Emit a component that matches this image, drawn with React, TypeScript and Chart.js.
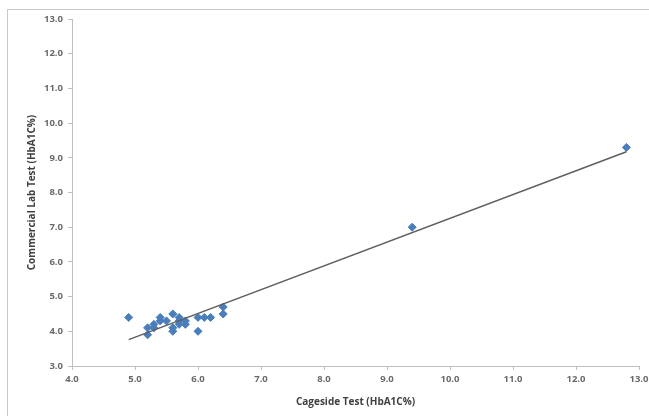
import React, { useEffect, useRef } from 'react';
import { Chart, registerables } from 'chart.js';

Chart.register(...registerables);

const cagesideX = [4.9, 5.2, 5.2, 5.3, 5.3, 5.4, 5.4, 5.5, 5.6, 5.6, 5.6, 5.7, 5.7, 5.7, 5.8, 5.8, 6.0, 6.0, 6.1, 6.2, 6.4, 6.4, 9.4, 12.8];
const labY = [4.4, 4.1, 3.9, 4.2, 4.1, 4.4, 4.3, 4.3, 4.5, 4.1, 4.0, 4.4, 4.3, 4.2, 4.3, 4.2, 4.4, 4.0, 4.4, 4.4, 4.7, 4.5, 7.0, 9.3];
const axisMin = 3;
const axisMax = 13;
const xAxisMin = 4;
const xTitle = 'Cageside Test (HbA1C%)';
const yTitle = 'Commercial Lab Test (HbA1C%)';

function linearFit(xs: number[], ys: number[]) {
  const n = xs.length;
  const mx = xs.reduce((a, b) => a + b, 0) / n;
  const my = ys.reduce((a, b) => a + b, 0) / n;
  let sxy = 0, sxx = 0;
  for (let i = 0; i < n; i++) {
    sxy += (xs[i] - mx) * (ys[i] - my);
    sxx += (xs[i] - mx) * (xs[i] - mx);
  }
  const slope = sxy / sxx;
  return { slope, intercept: my - slope * mx };
}

const borderPlugin = {
  id: 'outerBorder',
  beforeDraw(chart: any) {
    const ctx = chart.ctx;
    ctx.save();
    ctx.fillStyle = '#ffffff';
    ctx.fillRect(0, 0, chart.width, chart.height);
    ctx.strokeStyle = '#c8c8c8';
    ctx.lineWidth = 1;
    ctx.strokeRect(7.5, 9.5, 1000, 1000);
    ctx.restore();
  },
};

export default function App() {
  const ref = useRef<HTMLCanvasElement | null>(null);
  useEffect(() => {
    document.body.style.margin = '0';
    if (!ref.current) return;
    const fit = linearFit(cagesideX, labY);
    const xmin = Math.min(...cagesideX);
    const xmax = Math.max(...cagesideX);
    const points = cagesideX.map((x, i) => ({ x, y: labY[i] }));
    const tickFont = { family: '"Open Sans", "Liberation Sans", sans-serif', size: 9.5, weight: 'bold' as const };
    const titleFont = { family: '"Open Sans", "Liberation Sans", sans-serif', size: 10, weight: 'bold' as const };
    const chart = new Chart(ref.current, {
      type: 'scatter',
      data: {
        datasets: [
          {
            label: 'Trend',
            data: [
              { x: xmin, y: fit.intercept + fit.slope * xmin },
              { x: xmax, y: fit.intercept + fit.slope * xmax },
            ],
            showLine: true,
            borderColor: '#5f5f5f',
            borderWidth: 1.5,
            pointRadius: 0,
            order: 0,
          } as any,
          {
            label: 'Data',
            data: points,
            pointStyle: 'rectRot',
            pointRadius: 4,
            backgroundColor: '#4a7ebb',
            borderColor: '#4a7ebb',
            borderWidth: 1,
            order: 1,
          },
        ],
      },
      options: {
        animation: false,
        responsive: false,
        layout: { padding: { left: 0, top: 19, right: 10, bottom: 0 } },
        plugins: { legend: { display: false }, tooltip: { enabled: false } },
        scales: {
          x: {
            type: 'linear',
            min: xAxisMin,
            max: axisMax,
            ticks: {
              stepSize: 1,
              font: tickFont,
              color: '#6a6a6a',
              padding: 4,
              maxRotation: 0,
              callback: (v: any) => Number(v).toFixed(1),
            },
            grid: { drawOnChartArea: false, tickLength: 4, color: '#bfbfbf' },
            border: { color: '#bfbfbf' },
            title: { display: true, text: xTitle, font: titleFont, color: '#404040', padding: { top: 0, bottom: 8 } },
            afterFit: (s: any) => {
              s.height = 50;
              s.paddingLeft = 0;
              s.paddingRight = 0;
            },
          },
          y: {
            type: 'linear',
            min: axisMin,
            max: axisMax,
            ticks: {
              stepSize: 1,
              font: tickFont,
              color: '#6a6a6a',
              padding: 5,
              callback: (v: any) => Number(v).toFixed(1),
            },
            grid: { drawOnChartArea: false, tickLength: 4, color: '#bfbfbf' },
            border: { color: '#bfbfbf' },
            title: { display: true, text: yTitle, font: titleFont, color: '#404040', padding: { top: 26, bottom: 0 } },
            afterFit: (s: any) => {
              s.width = 72;
              s.paddingTop = 0;
              s.paddingBottom = 0;
            },
          },
        },
      },
      plugins: [borderPlugin],
    });
    return () => chart.destroy();
  }, []);
  return (
    <div style={{ position: 'absolute', left: 0, top: 0, width: 649, height: 416 }}>
      <canvas ref={ref} width={649} height={416} style={{ width: 649, height: 416, display: 'block' }} />
    </div>
  );
}
